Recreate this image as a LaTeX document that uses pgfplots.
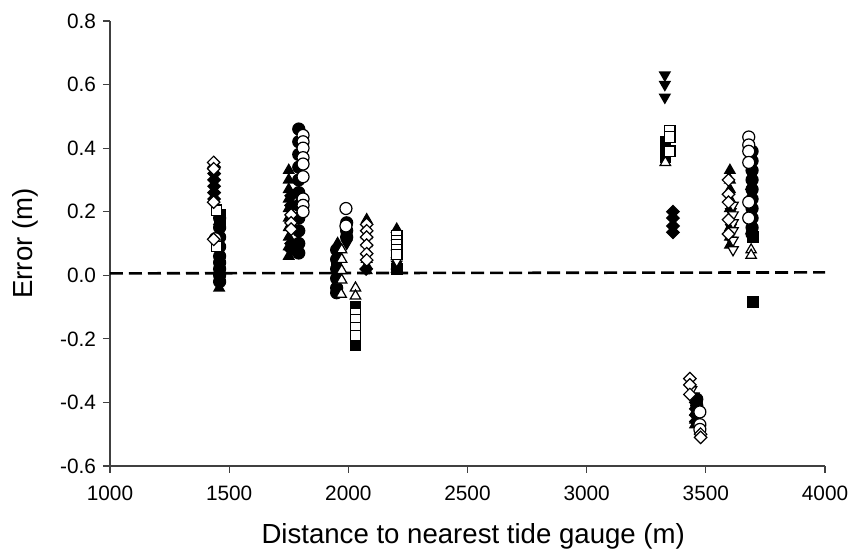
\documentclass[border=0pt]{standalone}
\usepackage{fontspec}
\setmainfont{Liberation Sans}
\usepackage{pgfplots}
\pgfplotsset{compat=1.18}
\begin{document}
\begin{tikzpicture}
\begin{axis}[
  scale only axis, width=357.5pt, height=222.5pt,
  xmin=1000, xmax=4000, ymin=-0.6, ymax=0.8,
  axis lines*=left,
  axis line style={black!75, line width=0.6pt},
  tick align=outside, major tick length=3.5pt,
  tick style={black!75, line width=0.6pt},
  xtick={1000,1500,...,4000}, ytick={-0.6,-0.4,...,0.8},
  /pgf/number format/assume math mode=true,
  x tick label style={/pgf/number format/1000 sep={}, font=\fontsize{10.4}{12}\selectfont, yshift=-3pt},
  y tick label style={/pgf/number format/fixed, /pgf/number format/fixed zerofill, /pgf/number format/precision=1, font=\fontsize{10.4}{12}\selectfont},
  xlabel={Distance to nearest tide gauge (m)},
  ylabel={Error (m)},
  label style={font=\fontsize{13.8}{16}\selectfont},
  xlabel style={at={(axis description cs:0.508,-0.157)}, anchor=center},
  ylabel style={at={(axis description cs:-0.118,0.5)}, anchor=center},
  clip=false,
  every axis plot/.append style={only marks, mark size=3pt, line width=0.6pt, black},
  dmd/.style={mark=square*, mark size=2.2pt, mark options={rotate=45}},
]
% dashed zero line
\addplot[sharp plot, no marks, line width=1.3pt, dash pattern=on 6.5pt off 3pt] coordinates {(1000,0.006)(4000,0.009)};
% filled triangles
\addplot[mark=triangle*, mark options={fill=black}] coordinates {
(1458,0.20)(1458,0.17)(1458,0.13)(1458,0.10)(1458,0.07)(1458,0.03)(1458,-0.01)(1458,-0.04)
(1750,0.33)(1750,0.30)(1750,0.27)(1750,0.24)(1750,0.21)(1750,0.18)(1750,0.15)(1750,0.12)(1750,0.09)(1750,0.06)
(1955,0.10)(1955,0.07)
(2077,0.175)(2077,0.15)(2077,0.125)(2077,0.10)(2077,0.075)(2077,0.05)(2077,0.03)(2077,0.015)
(2203,0.145)(2203,0.12)(2203,0.09)(2203,0.06)(2203,0.03)(2203,0.02)
(3601,0.33)(3601,0.30)(3601,0.27)(3601,0.24)(3601,0.21)(3601,0.18)(3601,0.15)(3601,0.12)(3601,0.095)
(3455,-0.43)(3455,-0.455)(3455,-0.47)
(3690,0.37)(3690,0.28)(3690,0.20)(3690,0.14)
};
% filled diamonds
\addplot[dmd, mark options={fill=black, rotate=45}] coordinates {
(3362,0.20)(3362,0.18)(3362,0.155)(3362,0.135)
(1437,0.34)(1437,0.32)(1437,0.30)(1437,0.28)(1437,0.26)(1437,0.24)
(1760,0.25)(1760,0.22)(1760,0.10)(1760,0.08)
(2075,0.02)
(3458,-0.40)(3458,-0.42)(3458,-0.44)(3458,-0.46)
};
% filled down triangles
\addplot[mark=triangle*, mark options={fill=black, rotate=180}] coordinates {
(3328,0.63)(3328,0.60)(3328,0.56)
(1993,0.10)(2203,0.035)
(3605,0.20)(3605,0.15)(3605,0.11)
(3450,-0.38)
};
% filled squares
\addplot[mark=square*, mark size=2.6pt, mark options={fill=black}] coordinates {
(2030,-0.10)(2030,-0.21)(2030,-0.22)
(3697,0.12)(3697,-0.085)
(3330,0.42)(3330,0.40)(3330,0.37)
(1462,0.19)(1462,0.16)
(1950,0.03)(2203,0.02)
};
% filled circles
\addplot[mark=*, mark options={fill=black}] coordinates {
(1460,0.18)(1460,0.15)(1460,0.12)(1460,0.09)(1460,0.06)(1460,0.04)(1460,0.02)(1460,0.0)(1460,-0.02)
(1792,0.46)(1792,0.42)(1792,0.38)(1792,0.34)(1792,0.30)(1792,0.26)(1792,0.22)(1792,0.18)(1792,0.14)(1792,0.10)(1792,0.07)
(1951,0.08)(1951,0.05)(1951,0.02)(1951,-0.01)(1951,-0.04)(1951,-0.055)
(1993,0.165)(1993,0.14)(1993,0.12)
(3694,0.39)(3694,0.36)(3694,0.33)(3694,0.30)(3694,0.27)(3694,0.24)(3694,0.21)(3694,0.18)(3694,0.15)(3694,0.13)
(3462,-0.39)(3462,-0.41)
};
% open circles
\addplot[mark=*, mark options={fill=white}] coordinates {
(1810,0.44)(1810,0.42)(1810,0.40)(1810,0.37)(1810,0.35)(1810,0.31)(1810,0.24)(1810,0.22)(1810,0.20)
(1990,0.21)(1990,0.155)
(3680,0.435)(3680,0.41)(3680,0.39)(3680,0.355)(3680,0.23)(3680,0.18)
(3475,-0.43)(3475,-0.47)(3475,-0.485)
(1442,0.115)
};
% open triangles
\addplot[mark=triangle*, mark options={fill=white}] coordinates {
(1972,0.08)(1972,0.05)(1972,0.015)(1972,-0.015)(1970,-0.06)
(2030,-0.04)(2030,-0.065)
(3330,0.355)
(3690,0.08)(3690,0.063)
};
% open down triangles
\addplot[mark=triangle*, mark options={fill=white, rotate=180}] coordinates {
(3614,0.22)(3614,0.19)(3614,0.165)(3614,0.14)(3614,0.11)(3614,0.08)
(3440,-0.36)(2203,0.045)
};
% open squares
\addplot[mark=square*, mark size=2.6pt, mark options={fill=white}] coordinates {
(2030,-0.12)(2030,-0.14)(2030,-0.165)(2030,-0.19)
(3349,0.455)(3349,0.435)(3349,0.39)
(2203,0.125)(2203,0.11)(2203,0.095)(2203,0.08)(2203,0.065)
(1447,0.205)(1447,0.09)
};
% open diamonds
\addplot[dmd, mark options={fill=white, rotate=45}] coordinates {
(1435,0.355)(1435,0.335)(1435,0.23)(1435,0.113)
(2077,0.16)(2077,0.14)(2077,0.12)(2077,0.095)(2077,0.068)(2077,0.048)
(3433,-0.325)(3433,-0.345)(3433,-0.375)(3478,-0.50)(3478,-0.51)
(3595,0.30)(3595,0.255)(3595,0.23)(3595,0.175)(3595,0.13)
(1760,0.19)(1760,0.165)(1760,0.145)
};
\end{axis}
\pgfresetboundingbox
\useasboundingbox (-55pt,-41.5pt) rectangle (369.5pt,233pt);
\end{tikzpicture}
\end{document}
